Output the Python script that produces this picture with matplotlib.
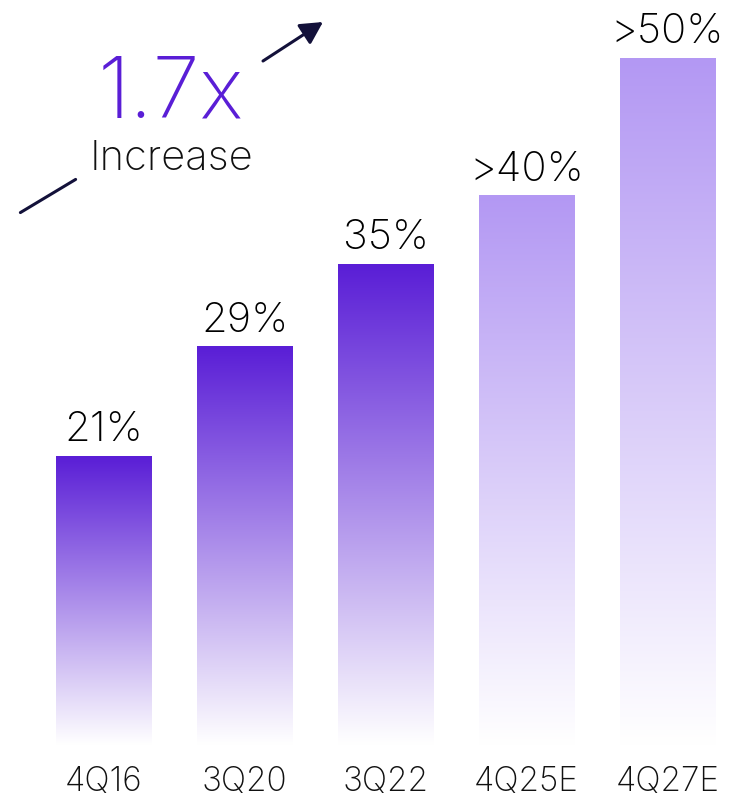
import numpy as np
import matplotlib
matplotlib.use("Agg")
import matplotlib.pyplot as plt
from matplotlib.colors import LinearSegmentedColormap
from matplotlib.patches import FancyArrowPatch

plt.rcParams['font.family'] = ['Inter', 'DejaVu Sans']

# Data
categories = ["4Q16", "3Q20", "3Q22", "4Q25E", "4Q27E"]
values = [21, 29, 35, 40, 50]
value_labels = ["21%", "29%", "35%", ">40%", ">50%"]
is_estimate = [False, False, False, True, True]

ACTUAL_TOP = "#5A1ED6"
ESTIMATE_TOP = "#B398F3"
INK = "#13113A"

W, H, DPI = 732, 798, 100
fig = plt.figure(figsize=(W / DPI, H / DPI), dpi=DPI)
fig.patch.set_facecolor("white")

# Axes spans the full width; baseline sits 53 px above the bottom edge
base_px = 53
ax = fig.add_axes([0, base_px / H, 1, 1 - base_px / H])
ax.set_xlim(-0.734, 4.457)
ax.set_ylim(0, 54.26)
ax.axis("off")

bar_w = 0.674
grad = np.linspace(0, 1, 256).reshape(-1, 1)  # 0 at bottom, 1 at top
for i, (v, est) in enumerate(zip(values, is_estimate)):
    top = ESTIMATE_TOP if est else ACTUAL_TOP
    cmap = LinearSegmentedColormap.from_list(f"g{i}", ["#FFFFFF", top])
    ax.imshow(grad, cmap=cmap, origin="lower", aspect="auto",
              extent=[i - bar_w / 2, i + bar_w / 2, 0, v],
              interpolation="bicubic", zorder=2)
    ax.annotate(value_labels[i], xy=(i, v), xytext=(0, 11),
                textcoords="offset points", ha="center", va="baseline",
                fontsize=30, fontweight="light", color="black")
    ax.annotate(categories[i], xy=(i, 7), xycoords=("data", "figure pixels"),
                ha="center", va="baseline", fontsize=24, fontweight="light",
                color="#111111")

# Multiplier callout
fig.text(171 / W, (H - 118) / H, "1.7x", ha="center", va="baseline",
         fontsize=61, fontweight="light", color=ACTUAL_TOP)
fig.text(171 / W, (H - 170) / H, "Increase", ha="center", va="baseline",
         fontsize=30, fontweight="light", color="#111111")

def px(x, y):
    return (x / W, (H - y) / H)

lower = FancyArrowPatch(px(18, 214), px(78, 178), transform=fig.transFigure,
                        arrowstyle="-", color=INK, linewidth=2.2)
upper = FancyArrowPatch(px(263, 61), px(323, 22), transform=fig.transFigure,
                        arrowstyle="-|>,head_length=0.75,head_width=0.4",
                        mutation_scale=18, color=INK, linewidth=2.2,
                        shrinkA=0, shrinkB=0)
fig.patches.extend([lower, upper])

fig.savefig("out.png", dpi=DPI, facecolor="white")
